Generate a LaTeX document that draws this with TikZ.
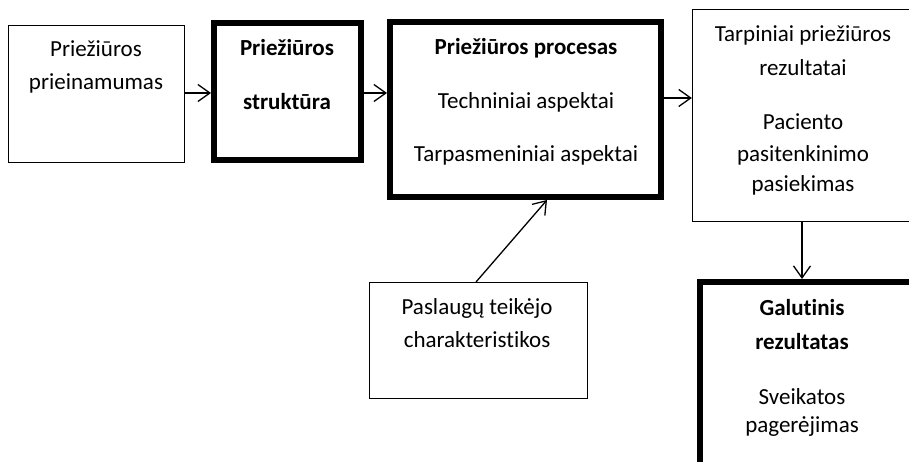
\documentclass[tikz,border=0pt]{standalone}
\usepackage{fontspec}
\setmainfont{Carlito}[Ligatures={NoCommon}]
\usetikzlibrary{arrows.meta}
\begin{document}
\begin{tikzpicture}[x=1pt,y=-1pt,
  thinbox/.style={draw=black,line width=1.3pt,minimum width=#1},
  thickbox/.style={draw=black,line width=6pt,minimum width=#1},
  txt/.style={font=\fontsize{23}{27}\selectfont,inner sep=0pt,anchor=center},
  btxt/.style={font=\fontsize{23}{27}\selectfont\bfseries,inner sep=0pt,anchor=center},
  arr/.style={draw=black,line width=1.3pt,-{Straight Barb[length=12pt,width=17pt,line width=1.3pt]}}]
\clip (0,0) rectangle (909,462);
\fill[white] (0,0) rectangle (909,462);
% boxes
\node[thinbox=176pt,minimum height=137pt] (b1) at (96.5,94) {};
\node[thickbox=147pt,minimum height=137pt] (b2) at (287.5,91.5) {};
\node[thickbox=271pt,minimum height=175pt] (b3) at (525.5,109.5) {};
\node[thinbox=222pt,minimum height=212pt] (b4) at (803.5,115.5) {};
\node[thickbox=215pt,minimum height=186pt] (b5) at (807.5,375) {};
\node[thinbox=218pt,minimum height=116pt] (b6) at (478.5,340.5) {};
% texts
\node[txt] (t11) at (96,49) {Priežiūros};
\node[txt] (t12) at (96,83) {prieinamumas};
\node[btxt] (t21) at (287,48) {Priežiūros};
\node[btxt] (t22) at (287,102) {struktūra};
\node[btxt] (t31) at (526,48) {Priežiūros procesas};
\node[txt] (t32) at (526,102) {Techniniai aspektai};
\node[txt] (t33) at (526,155) {Tarpasmeniniai aspektai};
\node[txt] (t41) at (803,35) {Tarpiniai priežiūros};
\node[txt] (t42) at (803,68) {rezultatai};
\node[txt] (t43) at (803,122) {Paciento};
\node[txt] (t44) at (803,155) {pasitenkinimo};
\node[txt] (t45) at (803,185) {pasiekimas};
\node[btxt] (t51) at (802,308) {Galutinis};
\node[btxt] (t52) at (802,342) {rezultatas};
\node[txt] (t53) at (802,397) {Sveikatos};
\node[txt] (t54) at (802,427) {pagerėjimas};
\node[txt] (t61) at (477,308) {Paslaugų teikėjo};
\node[txt] (t62) at (477,340) {charakteristikos};
% connectors
\coordinate (ya) at (0,93);
\coordinate (yb) at (0,98);
\coordinate (xc) at (802,0);
\coordinate (s6) at (476,282);
\coordinate (e3) at (547,200);
\draw[arr] (b1.east |- ya) -- (b2.west |- ya);
\draw[arr] (b2.east |- ya) -- (b3.west |- ya);
\draw[arr] (b3.east |- yb) -- (b4.west |- yb);
\draw[arr] (b4.south -| xc) -- (b5.north -| xc);
\draw[arr] (s6) -- (e3);
\end{tikzpicture}
\end{document}
